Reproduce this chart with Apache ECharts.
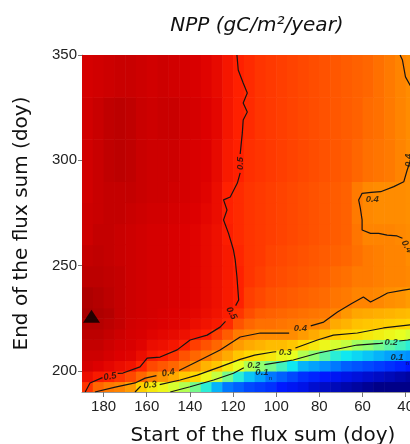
<!DOCTYPE html>
<html>
<head>
<meta charset="utf-8">
<script src="https://cdn.jsdelivr.net/npm/echarts@6/dist/echarts.min.js"></script>
<style>
  html, body { margin: 0; padding: 0; background: #fff; }
  #chart { width: 410px; height: 444px; }
</style>
</head>
<body>
<div id="chart"></div>
<script>
// cell edges (doy); x runs from late start (left) to early start (right)
var xEdges = [190, 185, 180, 175, 170, 165, 160, 155, 150, 145, 140, 135, 130, 125, 120, 115,
  110, 105, 100, 95, 90, 85, 80, 75, 70, 65, 60, 55, 50, 45, 40, 35];
var yEdges = [190, 195, 200, 205, 210, 215, 220, 225, 230, 240, 250, 260, 270, 280, 290, 310, 330, 350];

// NPP correlation values, one row per y band (bottom to top), columns follow xEdges
var npp = [
  [.48, .43, .41, .40, .37, .31, .28, .26, .24, .22, .19, .16, .12, .09, .08, .07, .065, .06, .05, .045, .04, .03, .025, .02, .015, .01, .005, 0, 0, 0, 0],
  [.53, .51, .50, .48, .46, .43, .40, .38, .35, .32, .30, .26, .23, .19, .16, .13, .11, .09, .08, .07, .06, .055, .05, .045, .04, .035, .03, .025, .02, .015, .01],
  [.56, .55, .54, .53, .52, .495, .46, .445, .43, .41, .38, .34, .32, .28, .25, .22, .20, .19, .17, .15, .12, .11, .10, .09, .08, .075, .07, .065, .06, .055, .05],
  [.57, .57, .56, .55, .545, .53, .51, .50, .48, .45, .43, .41, .38, .35, .32, .30, .29, .28, .26, .25, .22, .20, .18, .16, .15, .14, .13, .12, .11, .105, .10],
  [.58, .58, .57, .56, .555, .545, .53, .525, .515, .50, .47, .45, .43, .40, .37, .35, .34, .33, .33, .32, .30, .28, .26, .24, .23, .21, .20, .19, .18, .17, .16],
  [.59, .59, .58, .57, .56, .555, .545, .54, .535, .525, .51, .50, .47, .44, .41, .40, .39, .39, .39, .39, .37, .35, .33, .31, .30, .29, .28, .27, .26, .25, .24],
  [.60, .60, .59, .58, .565, .56, .555, .55, .545, .54, .53, .52, .51, .49, .45, .43, .42, .42, .415, .41, .405, .40, .39, .35, .34, .325, .32, .315, .31, .305, .30],
  [.62, .61, .60, .58, .57, .565, .56, .555, .55, .545, .54, .53, .52, .505, .48, .455, .44, .435, .43, .425, .42, .415, .41, .40, .375, .355, .35, .345, .34, .335, .33],
  [.61, .60, .59, .58, .57, .565, .56, .56, .555, .55, .545, .535, .525, .51, .50, .47, .46, .45, .445, .44, .435, .43, .425, .415, .41, .40, .40, .395, .385, .38, .37],
  [.59, .59, .585, .58, .57, .565, .56, .56, .555, .55, .545, .535, .525, .51, .50, .48, .47, .46, .455, .45, .445, .44, .435, .425, .42, .41, .41, .405, .40, .40, .395],
  [.58, .585, .58, .575, .57, .565, .56, .56, .555, .55, .545, .535, .525, .51, .495, .48, .475, .465, .46, .455, .45, .445, .44, .435, .43, .42, .41, .405, .40, .40, .39],
  [.57, .58, .58, .575, .57, .565, .56, .56, .555, .55, .545, .535, .525, .505, .49, .48, .475, .47, .465, .46, .455, .45, .445, .44, .435, .415, .40, .40, .40, .395, .39],
  [.57, .575, .58, .58, .575, .57, .565, .565, .56, .555, .55, .54, .53, .50, .49, .48, .475, .47, .465, .46, .455, .45, .445, .44, .435, .41, .395, .39, .39, .39, .385],
  [.565, .575, .58, .58, .58, .575, .57, .57, .565, .56, .555, .545, .53, .50, .49, .48, .475, .47, .465, .46, .455, .45, .445, .44, .435, .41, .395, .39, .39, .39, .385],
  [.565, .575, .585, .59, .585, .575, .57, .57, .57, .56, .555, .55, .535, .51, .50, .485, .48, .475, .47, .465, .46, .455, .45, .445, .44, .43, .42, .415, .41, .40, .39],
  [.565, .575, .585, .59, .585, .575, .57, .575, .575, .565, .56, .55, .54, .515, .50, .49, .48, .475, .47, .465, .46, .455, .45, .445, .44, .435, .425, .42, .41, .40, .39],
  [.56, .565, .57, .575, .575, .57, .565, .57, .565, .56, .555, .545, .535, .515, .50, .49, .48, .475, .47, .465, .46, .455, .45, .445, .44, .435, .43, .42, .41, .40, .39]
];

var xTicks = [40, 60, 80, 100, 120, 140, 160, 180];
var yTicks = [200, 250, 300, 350];

// contour polylines (gaps left where labels sit)
var contours = [
  [[188.5, 190], [186.3, 194.3], [180.5, 196.8]],
  [[173.5, 198.8], [171, 199], [163.1, 201.9], [159.8, 206.1], [153.8, 206.6], [145.9, 210], [139.9, 214.7], [132, 217], [126, 220.8], [123.5, 223.5]],
  [[118.8, 231], [117.4, 233.7], [118.2, 244.7], [119, 252.7], [119.8, 257.4], [122.1, 265.3], [124.4, 271.7], [122.8, 276.4], [124.4, 281.2], [121.3, 282.6], [118, 289.2], [116.7, 294]],
  [[116.7, 303], [115.7, 313], [115.3, 319.1], [113.4, 322.9], [115.3, 327.2], [113.4, 332], [115.3, 336.7], [117.6, 342.9], [118.2, 350]],
  [[184, 190], [174.6, 192.3], [165.4, 194.3], [160.7, 196.6], [155.5, 197.8]],
  [[145, 200.2], [135.2, 205.2], [126, 209.9], [116.7, 216.1], [107.4, 218], [98.1, 218], [94, 218]],
  [[84, 221.4], [78, 223.2], [71.6, 228], [65, 232], [59.6, 235.1], [56.3, 232.7], [52, 235], [48.4, 237], [41, 238.4], [37, 239]],
  [[37.7, 300.2], [39.3, 295.4], [40.9, 289.8], [45.5, 287.5], [51.6, 285.1], [56, 284.8], [60.2, 284.3], [61.8, 281.2], [61, 277.2], [60.2, 271.7], [60.2, 266.9], [56.3, 265.3], [52.5, 265.3], [48.6, 264.5], [44, 264.1], [41.5, 263]],
  [[42.6, 350], [41.5, 347.6], [40.1, 339.6], [37.6, 335]],
  [[165.4, 190], [162.8, 192.8]],
  [[154, 193.5], [144.5, 195.7], [136.6, 198], [126, 201.9], [116.7, 205.5], [110, 207.5], [101.4, 209], [100, 209.1]],
  [[91.1, 210.9], [80.9, 214.7], [73.5, 217], [62.4, 218], [50.3, 220.4], [37.5, 221.9]],
  [[149.1, 190], [139.9, 192.5], [129, 195.7], [119.8, 198.9], [115, 201.5]],
  [[105.5, 203], [92.1, 205.2], [80.9, 208.4], [62.5, 212.3], [51.7, 213.1], [50.5, 213.2]],
  [[43, 214.2], [39.1, 214.7], [37.5, 215]]
];

// contour labels: x, y, text, rotation
var contourLabels = [
  [177, 197.3, '0.5', 10],
  [120.8, 227.4, '0.5', -62],
  [116.7, 298.5, '0.5', 90],
  [150, 199.1, '0.4', 10],
  [88.8, 220.2, '0.4', 0],
  [55.5, 281.6, '0.4', 0],
  [39.5, 259, '0.4', -60],
  [38.7, 300, '0.4', 90],
  [158.4, 193.3, '0.3', 5],
  [95.8, 208.6, '0.3', 0],
  [110.4, 202.6, '0.2', 0],
  [46.7, 213.5, '0.2', 0],
  [106.6, 199.2, '0.1', 0],
  [44, 206.5, '0.1', 0]
];
var smallMarks = [[102.7, 196.6], [39.3, 203.7]];
var triangleMark = [185.6, 226];

var colorScale = ['#000088', '#0018ff', '#0090ff', '#10e8f0', '#90ff70', '#e8ff20', '#ffd800',
  '#ffaa00', '#ff8400', '#ff5200', '#ff2000', '#dd0000', '#b40000', '#960000'];

function buildCells() {
  var cells = [];
  for (var r = 0; r < npp.length; r++) {
    for (var c = 0; c < npp[r].length; c++) {
      cells.push([xEdges[c], xEdges[c + 1], yEdges[r], yEdges[r + 1], npp[r][c]]);
    }
  }
  return cells;
}

function renderCell(params, api) {
  var a = api.coord([api.value(0), api.value(3)]);
  var b = api.coord([api.value(1), api.value(2)]);
  var x = Math.min(a[0], b[0]);
  var y = Math.min(a[1], b[1]);
  return {
    type: 'rect',
    shape: { x: x, y: y, width: Math.abs(b[0] - a[0]) + 0.6, height: Math.abs(b[1] - a[1]) + 0.6 },
    style: { fill: api.visual('color') }
  };
}

var font = "'Liberation Sans', Arial, sans-serif";
var nameFont = "'DejaVu Sans', sans-serif";
var labelStyle = {
  show: true,
  position: 'inside',
  fontSize: 9.5,
  fontStyle: 'italic',
  fontWeight: 'bold',
  color: '#111',
  fontFamily: font
};

var series = [{
  type: 'custom',
  renderItem: renderCell,
  data: buildCells(),
  encode: { x: [0, 1], y: [2, 3] },
  clip: true,
  silent: true,
  animation: false,
  z: 1
}];

contours.forEach(function (seg) {
  series.push({
    type: 'line',
    data: seg,
    symbol: 'none',
    clip: true,
    silent: true,
    animation: false,
    lineStyle: { color: '#151515', width: 1.2 },
    z: 3
  });
});

series.push({
  type: 'scatter',
  symbolSize: 0,
  silent: true,
  animation: false,
  z: 4,
  label: labelStyle,
  data: contourLabels.map(function (l) {
    return { value: [l[0], l[1]], label: { formatter: l[2], rotate: l[3] } };
  })
});

series.push({
  type: 'scatter',
  symbolSize: 0,
  silent: true,
  animation: false,
  z: 4,
  label: { show: true, position: 'inside', formatter: 'n', fontSize: 6, color: '#111', fontFamily: font },
  data: smallMarks
});

series.push({
  type: 'scatter',
  symbol: 'triangle',
  symbolSize: [17, 13],
  itemStyle: { color: '#000' },
  silent: true,
  animation: false,
  z: 5,
  data: [triangleMark]
});

var chart = echarts.init(document.getElementById('chart'));
chart.setOption({
  animation: false,
  title: {
    text: 'NPP (gC/m\u00b2/year)',
    left: 252,
    top: 11,
    textAlign: 'center',
    textStyle: { fontSize: 20, fontStyle: 'italic', fontWeight: 'normal', color: '#111', fontFamily: nameFont }
  },
  grid: { left: 82, right: 0, top: 55, bottom: 52, outerBoundsMode: 'none', containLabel: false },
  visualMap: {
    type: 'continuous',
    show: false,
    min: 0,
    max: 0.65,
    dimension: 4,
    seriesIndex: 0,
    inRange: { color: colorScale }
  },
  xAxis: {
    type: 'value',
    inverse: true,
    min: 38,
    max: 190,
    name: 'Start of the flux sum (doy)',
    nameLocation: 'middle',
    nameGap: 34,
    nameTextStyle: { fontSize: 20, color: '#111', fontFamily: nameFont, padding: [0, 0, 0, 34] },
    axisLine: { show: true, lineStyle: { color: '#999' } },
    axisTick: { show: true, length: 5, customValues: xTicks, lineStyle: { color: '#777' } },
    axisLabel: { customValues: xTicks, fontSize: 15, color: '#222', margin: 7, fontFamily: font },
    splitLine: { show: false }
  },
  yAxis: {
    type: 'value',
    min: 190,
    max: 350,
    name: 'End of the flux sum (doy)',
    nameLocation: 'middle',
    nameRotate: 90,
    nameGap: 50,
    nameTextStyle: { fontSize: 20, color: '#111', fontFamily: nameFont },
    axisLine: { show: true, lineStyle: { color: '#bbb' } },
    axisTick: { show: true, length: 4, customValues: yTicks, lineStyle: { color: '#777' } },
    axisLabel: { customValues: yTicks, fontSize: 15, color: '#222', margin: 5, fontFamily: font },
    splitLine: { show: false }
  },
  series: series
});
</script>
</body>
</html>
